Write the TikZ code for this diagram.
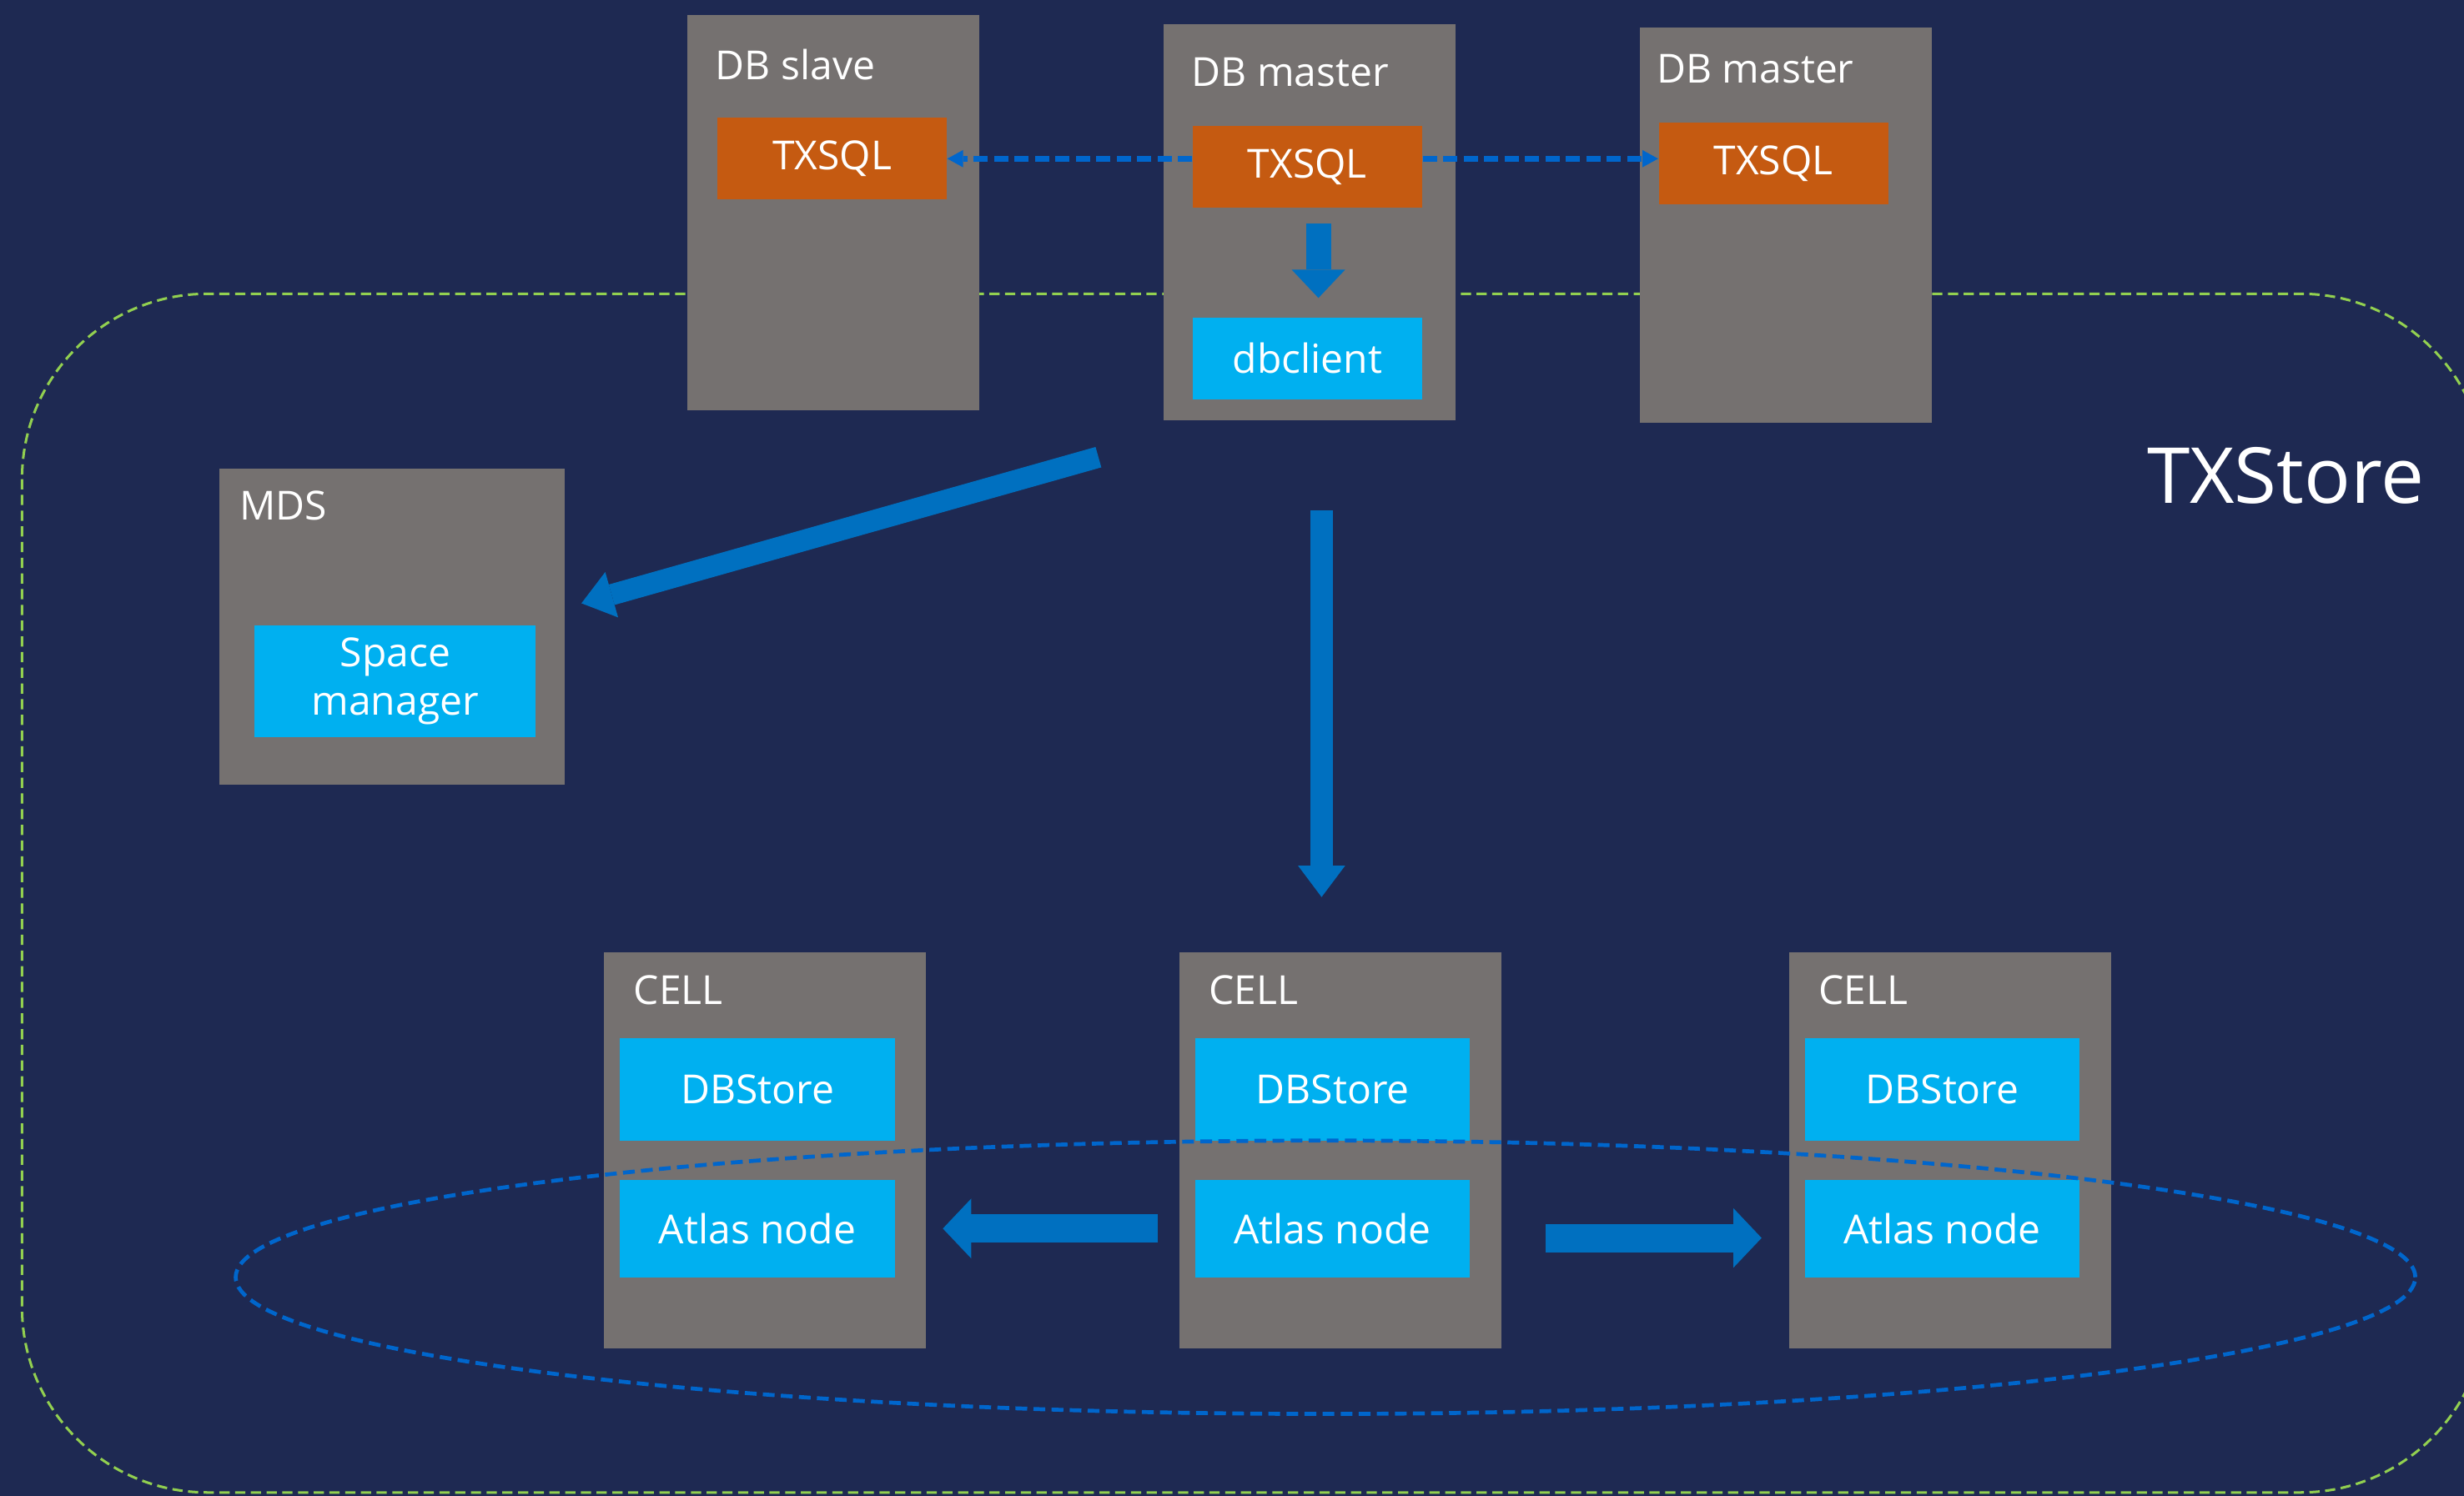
\documentclass[tikz,border=0pt]{standalone}
\usepackage{fontspec}
\setmainfont{Open Sans}
\usetikzlibrary{arrows.meta}

\definecolor{bgnavy}{HTML}{1E2952}
\definecolor{hostgrey}{HTML}{757170}
\definecolor{sqlorange}{HTML}{C55A11}
\definecolor{partcyan}{HTML}{00B0F0}
\definecolor{flowblue}{HTML}{0070C0}
\definecolor{linkblue}{HTML}{0066CC}
\definecolor{zonegreen}{HTML}{92D050}

\newcommand{\boxfont}{\fontsize{14.5}{17}\selectfont}

\tikzset{
  host/.style={fill=hostgrey, anchor=north west, inner sep=0pt,
    minimum width=37.2mm, minimum height=50.4mm},
  hostlabel/.style={anchor=west, inner sep=0pt, text=white, font=\boxfont},
  sqlbox/.style={fill=sqlorange, text=white, inner sep=0pt, font=\boxfont,
    minimum width=29.2mm, minimum height=10.4mm},
  partbox/.style={fill=partcyan, text=white, inner sep=0pt, font=\boxfont,
    align=center, minimum width=35mm},
  fatarrow/.style={draw=flowblue, line width=2.8mm,
    -{Triangle[width=6mm, length=4mm, line width=0pt]}},
  replink/.style={draw=linkblue, line width=0.7mm, dash pattern=on 1.8mm off 0.8mm,
    -{Triangle[width=2.2mm, length=2mm, line width=0pt]}},
}

\begin{document}
\begin{tikzpicture}[x=0.2mm, y=-0.2mm]
  \useasboundingbox (0,0) rectangle (1568,952);
  \fill[bgnavy] (0,0) rectangle (1568,952);
  \clip (0,0) rectangle (1568,952);

  % TXStore zone
  \draw[zonegreen, line width=0.32mm, dash pattern=on 1.3mm off 0.7mm,
    rounded corners=23.6mm] (14,187) rectangle (1582,950);
  \node[anchor=west, inner sep=0pt, text=white, font=\fontsize{28}{32}\selectfont]
    (txstore) at (1366,303) {TXStore};

  % DB hosts
  \node[host] (slave) at (437,9) {};
  \node[host] (master) at (740,15) {};
  \node[host] (master2) at (1043,17) {};
  \node[hostlabel] (slavelabel) at (455,41) {DB slave};
  \node[hostlabel] (masterlabel) at (758,46) {DB master};
  \node[hostlabel] (master2label) at (1054,44) {DB master};

  \node[sqlbox] (slavesql) at (529.5,101) {TXSQL};
  \node[sqlbox] (mastersql) at (832,106) {TXSQL};
  \node[sqlbox] (master2sql) at (1128.5,104) {TXSQL};
  \node[partbox, minimum width=29.2mm, minimum height=10.4mm, fill=partcyan]
    (dbclient) at (832,228) {dbclient};

  \draw[replink] (mastersql.west |- slavesql.east) -- (slavesql.east);
  \draw[replink] (mastersql.east |- slavesql.east) -- (master2sql.west |- slavesql.east);
  \draw[fatarrow, line width=3.2mm, -{Triangle[width=6.8mm, length=3.6mm, line width=0pt]}]
    ([xshift=1.4mm, yshift=-2mm]mastersql.south) -- ([xshift=1.4mm, yshift=2.4mm]dbclient.north);

  % MDS
  \node[host, minimum width=44mm, minimum height=40.2mm] (mds) at (139,298) {};
  \node[hostlabel] (mdslabel) at (152,322) {MDS};
  \node[partbox, minimum width=35.8mm, minimum height=14.2mm] (spacemgr) at (251.5,433.5)
    {Space\\[0.6pt]manager};

  \coordinate (mdsfrom) at (699,291);
  \coordinate (mdsto) at (370,384);
  \draw[fatarrow, line width=2.7mm] (mdsfrom) -- (mdsto);

  \coordinate (cellfrom) at (841,325);
  \coordinate (cellto) at (841,571);
  \draw[fatarrow] (cellfrom) -- (cellto);

  % cells
  \foreach \n/\x in {a/384, b/750, c/1138} {
    \node[host, minimum width=41mm] (cell\n) at (\x,606) {};
    \node[hostlabel] (cell\n label) at (\x+19,630) {CELL};
    \node[partbox, minimum height=13mm] (dbstore\n) at (\x+98,693.5) {DBStore};
    \node[partbox, minimum height=12.4mm] (atlas\n) at (\x+98,782) {Atlas node};
  }

  \coordinate (leftfrom) at (737,782);
  \coordinate (leftto) at (600,782);
  \coordinate (rightfrom) at (983.5,788);
  \coordinate (rightto) at (1121,788);
  \draw[fatarrow, line width=3.6mm, -{Triangle[width=7.6mm, length=3.6mm, line width=0pt]}]
    (leftfrom) -- (leftto);
  \draw[fatarrow, line width=3.6mm, -{Triangle[width=7.6mm, length=3.6mm, line width=0pt]}]
    (rightfrom) -- (rightto);

  % atlas ring
  \draw[linkblue, line width=0.5mm, dash pattern=on 1.5mm off 0.8mm]
    (843.5,813) ellipse [x radius=138.7mm, y radius=17.4mm];
\end{tikzpicture}
\end{document}
